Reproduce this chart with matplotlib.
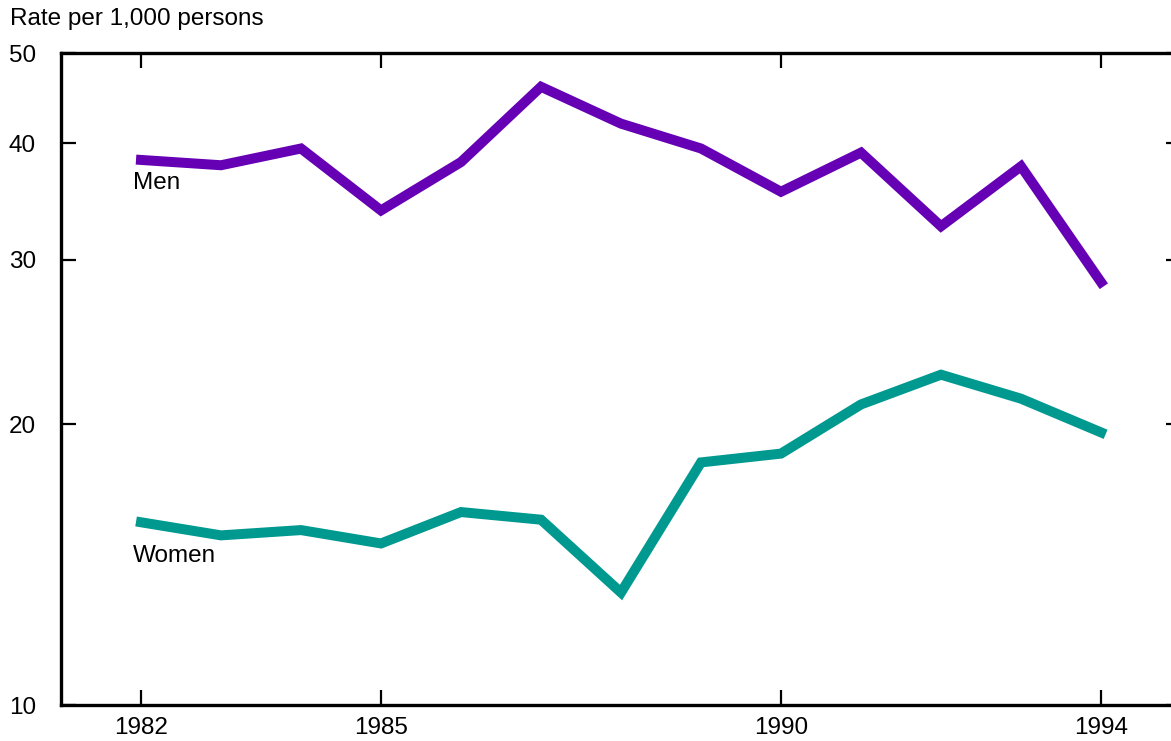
import matplotlib.pyplot as plt
from matplotlib.ticker import FixedLocator, NullLocator, FixedFormatter

plt.rcParams['font.family'] = ['Liberation Sans', 'DejaVu Sans']

# Data (rate per 1,000 persons)
years = [1982, 1983, 1984, 1985, 1986, 1987, 1988, 1989, 1990, 1991, 1992, 1993, 1994]
men = [38.4, 37.9, 39.5, 33.9, 38.2, 46.0, 42.0, 39.5, 35.5, 39.1, 32.6, 37.8, 28.4]
women = [15.7, 15.2, 15.4, 14.9, 16.1, 15.8, 13.2, 18.2, 18.6, 21.0, 22.6, 21.3, 19.6]

x_ticks = [1982, 1985, 1990, 1994]
y_ticks = [10, 20, 30, 40, 50]

W, H = 1171, 741
FS = 17.5
fig = plt.figure(figsize=(W / 100, H / 100), dpi=100)
ax = fig.add_axes([61 / W, 36 / H, 1120 / W, 652 / H])

ax.plot(years, men, color='#6600b5', lw=7.2, solid_joinstyle='miter', zorder=3)
ax.plot(years, women, color='#009990', lw=7.2, solid_joinstyle='miter', zorder=3)

ax.set_yscale('log')
ax.set_ylim(10, 50)
ax.set_xlim(1981, 1995)

ax.yaxis.set_major_locator(FixedLocator(y_ticks))
ax.yaxis.set_major_formatter(FixedFormatter([str(v) for v in y_ticks]))
ax.yaxis.set_minor_locator(NullLocator())
ax.set_xticks(x_ticks)
ax.set_xticklabels([str(v) for v in x_ticks])

for s in ax.spines.values():
    s.set_linewidth(2.4)

ax.tick_params(axis='x', direction='in', top=True, length=11, width=1.6,
               labelsize=FS, pad=9)
ax.tick_params(axis='y', direction='in', right=True, length=11, width=1.6,
               labelsize=FS, pad=18)

ax.text(1981.9, 36.3, 'Men', fontsize=FS, ha='left', va='center')
ax.text(1981.9, 14.45, 'Women', fontsize=FS, ha='left', va='center')

fig.text(10 / W, 1 - 19 / H, 'Rate per 1,000 persons', fontsize=FS,
         ha='left', va='center')

fig.savefig('out.png', dpi=100)
